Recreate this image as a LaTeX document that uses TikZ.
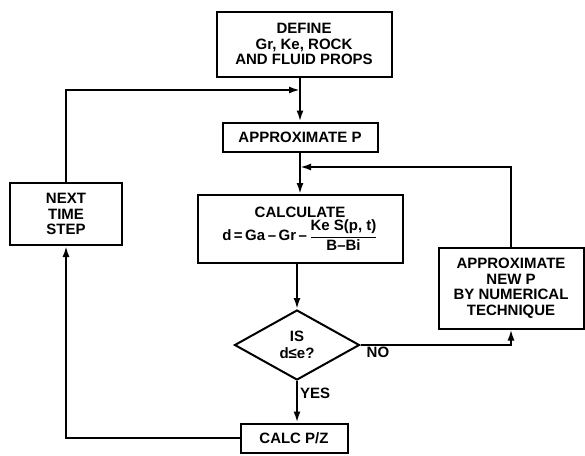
\documentclass[tikz,border=0pt]{standalone}
\usepackage{amsmath,amssymb}
\usepackage{fontspec}
\setmainfont{Liberation Sans}
\usepackage{tikz}
\usetikzlibrary{arrows.meta,positioning,shapes.geometric}

\begin{document}
\begin{tikzpicture}[x=1pt,y=-1pt,
box/.style={draw,line width=2pt,align=center,inner sep=0pt,font=\fontsize{15}{15.5}\selectfont\bfseries},
decision/.style={draw,diamond,line width=2pt,inner sep=0pt,aspect=1.8,minimum width=125pt,minimum height=70pt,align=center,font=\fontsize{15}{17}\selectfont\bfseries},
arrow/.style={-{Latex[length=11pt,width=7pt]},line width=2pt},
lbl/.style={font=\fontsize{15}{15}\selectfont\bfseries,inner sep=2pt}
]
\useasboundingbox (0,0) rectangle (585,455);
\node[box,minimum width=175pt,minimum height=65pt] (define) at (304,44) {DEFINE\\Gr, Ke, ROCK\\AND FLUID PROPS};
\node[box,minimum width=155pt,minimum height=29pt] (approxp) at (300,137) {APPROXIMATE P};
\node[box,minimum width=205pt,minimum height=68pt] (calc) at (300,229) {CALCULATE\\[1pt]d\,=\,Ga\,--\,Gr\,--\,$\dfrac{\text{Ke S(p, t)}}{\text{B--Bi}}$};
\node[decision] (test) at (297,345) {IS\\d≤e?};
\node[box,minimum width=107pt,minimum height=29pt] (calcpz) at (294,438) {CALC P/Z};
\node[box,minimum width=112pt,minimum height=62pt] (next) at (66,214) {NEXT\\TIME\\STEP};
\node[box,minimum width=145pt,minimum height=81pt] (newp) at (511,288) {APPROXIMATE\\NEW P\\BY NUMERICAL\\TECHNIQUE};
\coordinate (loopin) at (300,90);
\coordinate (iterin) at (300,167);
% main column
\draw[arrow] (define.south -| approxp) -- (approxp);
\draw[arrow] (approxp) -- (calc);
\draw[arrow] (calc.south -| test) -- (test);
\draw[arrow] (test.south) -- node[lbl,right,pos=0.3] {YES} (test.south |- calcpz.north);
% time step loop
\draw[arrow] (calcpz.west) -| (next.south);
\draw[arrow] (next.north) |- (loopin);
% iteration loop
\draw[arrow] (test.east) -| (newp.south);
\node[lbl,below right=0pt and 4pt of test.east] (no) {NO};
\draw[arrow] (newp.north) |- (iterin);
\end{tikzpicture}
\end{document}
